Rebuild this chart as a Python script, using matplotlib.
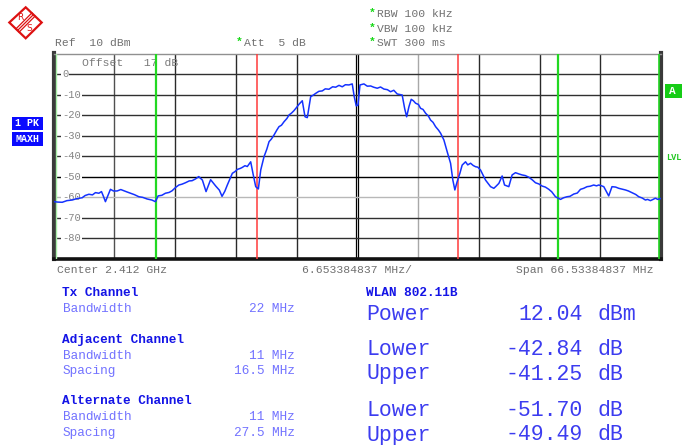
import matplotlib
matplotlib.use("Agg")
import matplotlib.pyplot as plt
from matplotlib.patches import Polygon, Rectangle
from matplotlib.lines import Line2D

# ---------------- data ----------------
center_ghz = 2.412
span_mhz = 66.53384837
ref_level = 10
y_ticks = [0, -10, -20, -30, -40, -50, -60, -70, -80]

tx_bw = 22.0
adj_bw = 11.0
adj_spacing = 16.5
alt_bw = 11.0
alt_spacing = 27.5

freq_mhz = [
    -33.22, -32.8, -32.31, -31.8, -31.22, -30.7, -30.13, -29.8, -29.39, -29.0,
    -28.67, -28.3, -28.01, -27.8, -27.58, -27.3, -27.03, -26.7, -26.30, -25.9,
    -25.56, -25.2, -24.84, -24.4, -23.92, -23.5, -23.01, -22.5, -22.10, -21.81,
    -21.4, -21.01, -20.6, -20.28, -19.9, -19.54, -19.2, -18.82, -18.4, -18.09,
    -17.7, -17.36, -16.96, -16.56, -16.06, -15.50, -15.1, -14.81, -14.5, -14.23,
    -13.68, -13.4, -13.13, -12.8, -12.58, -12.3, -12.04, -11.67, -11.41, -11.12,
    -10.83, -10.57, -10.21, -9.9, -9.66, -9.4, -9.12, -8.8, -8.57, -8.3,
    -8.02, -7.7, -7.47, -7.2, -6.93, -6.6, -6.38, -6.02, -5.72, -5.47,
    -5.10, -4.8, -4.55, -4.2, -3.83, -3.5, -3.10, -2.7, -2.36, -2.0,
    -1.64, -1.3, -0.91, -0.55, -0.33, -0.11, 0.08, 0.30, 0.73, 1.1,
    1.47, 1.8, 2.19, 2.55, 2.92, 3.3, 3.65, 4.0, 4.38, 4.92,
    5.19, 5.41, 5.66, 5.91, 6.15, 6.39, 6.7, 6.94, 7.2, 7.49,
    7.8, 8.03, 8.3, 8.58, 8.9, 9.13, 9.49, 9.85, 10.22, 10.47,
    10.69, 10.94, 11.24, 11.49, 11.86, 12.1, 12.41, 12.7, 12.96, 13.2,
    13.50, 14.05, 14.60, 14.96, 15.2, 15.51, 15.87, 16.13, 16.60, 16.96,
    17.33, 17.7, 18.06, 18.4, 18.79, 19.2, 19.52, 19.9, 20.24, 20.6,
    20.98, 21.3, 21.71, 22.26, 22.6, 22.98, 23.3, 23.71, 24.1, 24.45,
    24.8, 25.17, 25.5, 25.90, 26.2, 26.45, 26.7, 27.00, 27.54, 27.90,
    28.3, 28.64, 29.0, 29.37, 29.7, 30.09, 30.5, 30.83, 31.2, 31.56,
    31.8, 32.11, 32.4, 32.65, 32.91, 33.2,
]
level_dbm = [
    -62.1, -62.3, -62.4, -61.6, -61.3, -60.6, -60.2, -59.1, -58.5, -58.8,
    -57.7, -58.0, -57.2, -59.5, -62.1, -59.0, -56.1, -56.9, -56.9, -56.2,
    -56.8, -57.4, -58.0, -58.7, -59.7, -60.0, -60.8, -61.3, -62.1, -59.3,
    -59.0, -58.0, -57.6, -56.8, -55.2, -54.0, -53.6, -52.9, -52.0, -51.9,
    -51.0, -49.9, -51.6, -57.2, -51.4, -54.5, -56.5, -59.5, -57.0, -54.0,
    -48.3, -47.5, -46.4, -45.9, -45.4, -44.6, -45.0, -42.7, -48.6, -54.8,
    -55.9, -46.7, -40.2, -36.5, -32.9, -31.6, -29.7, -27.2, -25.6, -24.9,
    -23.2, -21.6, -19.9, -19.0, -17.8, -16.0, -14.7, -13.0, -20.8, -21.2,
    -11.0, -10.2, -9.4, -8.4, -8.2, -7.2, -7.4, -6.2, -6.4, -5.5,
    -6.2, -5.2, -5.3, -4.8, -11.0, -15.5, -15.1, -5.3, -4.8, -5.9,
    -5.8, -6.4, -6.9, -6.3, -7.3, -7.6, -8.6, -7.9, -9.7, -10.2,
    -16.7, -20.8, -15.9, -12.3, -13.0, -14.2, -14.8, -16.7, -17.2, -19.1,
    -20.5, -22.4, -23.5, -25.6, -27.3, -28.8, -32.1, -37.8, -43.4, -51.6,
    -56.4, -52.4, -48.3, -44.3, -42.7, -44.2, -43.4, -44.5, -45.1, -45.3,
    -46.7, -51.6, -54.8, -55.6, -54.6, -53.2, -49.6, -54.0, -54.8, -49.1,
    -48.0, -48.6, -49.1, -49.4, -50.2, -51.6, -52.9, -53.5, -54.5, -55.0,
    -56.1, -57.3, -59.7, -61.0, -60.2, -59.7, -59.5, -58.4, -57.9, -56.1,
    -55.6, -54.8, -54.6, -54.0, -54.4, -54.0, -54.3, -54.8, -59.3, -54.8,
    -55.0, -55.6, -56.0, -56.4, -56.9, -57.7, -58.6, -59.7, -60.3, -61.3,
    -61.0, -61.6, -61.0, -60.4, -61.0, -60.6,
]

# ---------------- figure ----------------
W, H = 682, 445
fig = plt.figure(figsize=(W / 100, H / 100), dpi=100)
fig.patch.set_facecolor("white")
MONO = ["Liberation Mono", "DejaVu Sans Mono"]


def P(x, y):
    return (x / W, 1 - y / H)


left, right, top, bottom = 53.5, 661, 53.5, 259
ax = fig.add_axes([left / W, 1 - bottom / H, (right - left) / W, (bottom - top) / H])
half = span_mhz / 2
ax.set_xlim(-half, half)
ax.set_ylim(ref_level - 100, ref_level)
ax.set_xticks([])
ax.set_yticks([])

# grid
div = span_mhz / 10
for i in range(1, 10):
    xv = -half + i * div
    if i == 5:
        for d in (-0.12, 0.12):
            ax.axvline(xv + d, color="black", lw=0.9, zorder=1)
        continue
    col = "#a8a8a8" if i == 6 else ("#505050" if i == 1 else "#2a2a2a")
    ax.axvline(xv, color=col, lw=1.0, zorder=1)
for yv in y_ticks:
    col = "#b8b8b8" if yv == -60 else ("#000000" if yv == -50 else "#303030")
    ax.axhline(yv, color=col, lw=1.0, zorder=1)
    ax.text(-half + 0.95, yv, "-" + str(abs(yv)) if yv < 0 else str(yv),
            fontsize=7.6, family=MONO, color="#858585", va="center", ha="left",
            zorder=2, bbox=dict(facecolor="white", edgecolor="none", pad=0.6))

# channel lines
for s in (-1, 1):
    ax.axvline(s * tx_bw / 2, color="#ff3b3b", lw=1.1, zorder=3)
    ax.axvline(s * (adj_spacing + adj_bw / 2), color="#22d822", lw=1.6, zorder=3)
ax.axvline(-(alt_spacing + alt_bw / 2), color="#a8eea8", lw=1.0, zorder=3)
ax.axvline(alt_spacing + alt_bw / 2, color="#22d822", lw=1.2, zorder=3)

# trace
ax.plot(freq_mhz, level_dbm, color="#1432ff", lw=1.1, zorder=4)

# spines
for sp, (lw, c) in {"left": (3.0, "#3a3a3a"), "right": (3.0, "#3a3a3a"),
                    "bottom": (2.6, "#111111"), "top": (1.0, "#909090")}.items():
    ax.spines[sp].set_linewidth(lw)
    ax.spines[sp].set_color(c)

ax.text(-half + 3.15, 5.5, "Offset   17 dB", fontsize=8.2, family=MONO,
        color="#7a7a7a", va="center", ha="left", zorder=2)

# ---------------- header text ----------------
GRAY = "#707070"
fig.text(*P(55, 43), "Ref  10 dBm", fontsize=8.2, family=MONO, color=GRAY, va="center")
fig.text(*P(235.5, 42), "*", fontsize=8.2, family=MONO, color="#18d818",
         va="center", weight="bold")
fig.text(*P(244, 43), "Att  5 dB", fontsize=8.2, family=MONO, color=GRAY, va="center")
for yy, s in ((14, "RBW 100 kHz"), (29, "VBW 100 kHz"), (43.3, "SWT 300 ms")):
    fig.text(*P(368.5, yy - 1), "*", fontsize=8.2, family=MONO, color="#18d818",
             va="center", weight="bold")
    fig.text(*P(377, yy), s, fontsize=8.2, family=MONO, color=GRAY, va="center")

fig.text(*P(57, 270), "Center %.3f GHz" % center_ghz, fontsize=8.2, family=MONO,
         color=GRAY, va="center")
fig.text(*P(302, 270), "%.9f MHz/" % div, fontsize=8.2, family=MONO,
         color=GRAY, va="center")
fig.text(*P(516.5, 270), "Span %.8f MHz" % span_mhz, fontsize=8.2, family=MONO,
         color=GRAY, va="center")

# R&S logo
red = "#dd1111"
fig.patches.append(Polygon([P(25.7, 7.3), P(41.7, 22.5), P(25.7, 38.3), P(9.3, 22.5)],
                           closed=True, transform=fig.transFigure, facecolor="white",
                           edgecolor=red, lw=1.6))
for off in (-1.6, 0, 1.6):
    fig.lines.append(Line2D([(33.5 + off) / W, (17.5 + off) / W],
                            [1 - (14.5 + off) / H, 1 - (30.5 + off) / H],
                            transform=fig.transFigure, color=red, lw=0.9))
fig.text(*P(20.5, 17.5), "R", fontsize=6.5, color=red, ha="center", va="center",
         family=["DejaVu Sans"])
fig.text(*P(29.5, 28.5), "S", fontsize=6.5, color=red, ha="center", va="center",
         family=["DejaVu Sans"])

# left boxes
for (y0, y1, s) in ((117.3, 129.5, "1 PK"), (131.5, 145.7, "MAXH")):
    fig.patches.append(Rectangle(P(12, y1), 30.7 / W, (y1 - y0) / H,
                                 transform=fig.transFigure, facecolor="#0a0aff",
                                 edgecolor="none"))
    fig.text(*P(27.3, (y0 + y1) / 2), s, fontsize=7.2, family=MONO, color="white",
             weight="bold", ha="center", va="center")

# right markers
fig.patches.append(Rectangle(P(665, 98.3), 17 / W, 14.3 / H, transform=fig.transFigure,
                             facecolor="#16cc16", edgecolor="none"))
fig.text(*P(672.5, 91), "A", fontsize=8, family=MONO, color="white", weight="bold",
         ha="center", va="center")
fig.text(*P(666, 157.3), "LVL", fontsize=6.2, family=MONO, color="#22c822",
         weight="bold", va="center")

# ---------------- tables ----------------
BOLD_BLUE = "#1414e6"
LIGHT_BLUE = "#7272ff"
BIG_BLUE = "#3c3cf0"
rows = [
    (292.7, "Tx Channel", None, True),
    (309.5, "Bandwidth", "%g MHz" % tx_bw, False),
    (339.7, "Adjacent Channel", None, True),
    (355.7, "Bandwidth", "%g MHz" % adj_bw, False),
    (371.0, "Spacing", "%g MHz" % adj_spacing, False),
    (400.7, "Alternate Channel", None, True),
    (417.5, "Bandwidth", "%g MHz" % alt_bw, False),
    (432.7, "Spacing", "%g MHz" % alt_spacing, False),
]
for yy, lab, val, bold in rows:
    if bold:
        fig.text(*P(62.5, yy), lab, fontsize=9.2, family=MONO, weight="bold",
                 color=BOLD_BLUE, va="center")
    else:
        fig.text(*P(62.5, yy), lab, fontsize=9.2, family=MONO, color=LIGHT_BLUE,
                 va="center")
        fig.text(*P(295, yy), val, fontsize=9.2, family=MONO, color=LIGHT_BLUE,
                 va="center", ha="right")

fig.text(*P(366, 293.3), "WLAN 802.11B", fontsize=9.2, family=MONO, weight="bold",
         color=BOLD_BLUE, va="center")
results = [
    (314.3, "Power", "12.04", "dBm"),
    (349.3, "Lower", "-42.84", "dB"),
    (374.0, "Upper", "-41.25", "dB"),
    (410.7, "Lower", "-51.70", "dB"),
    (435.0, "Upper", "-49.49", "dB"),
]
for yy, lab, val, unit in results:
    fig.text(*P(366.5, yy), lab, fontsize=15.5, family=MONO, color=BIG_BLUE, va="center")
    fig.text(*P(583, yy), val, fontsize=15.5, family=MONO, color=BIG_BLUE,
             va="center", ha="right")
    fig.text(*P(597.5, yy), unit, fontsize=15.5, family=MONO, color=BIG_BLUE,
             va="center")

fig.savefig("out.png", dpi=100)
